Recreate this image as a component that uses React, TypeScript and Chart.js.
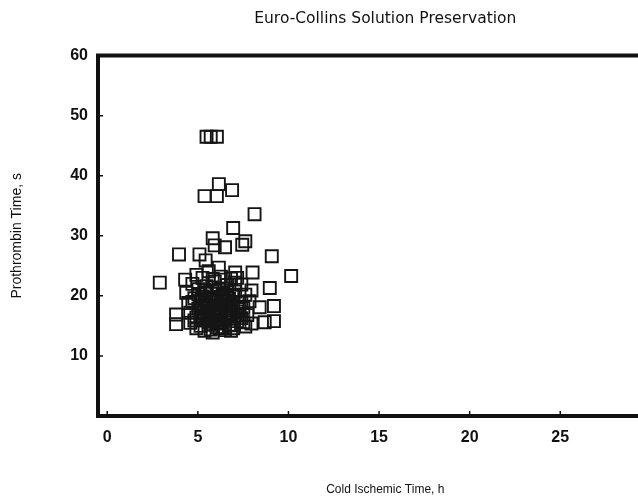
import { useEffect, useRef } from 'react';
import { Chart, registerables } from 'chart.js';

Chart.register(...registerables);

// Cold ischemic time (h)
const coldIschemicTime = [
  5.48, 5.71, 6.05,
  6.16, 5.37, 6.05, 6.89, 8.13, 6.95, 5.82, 7.62, 5.93, 6.5, 7.45, 3.96, 5.09, 5.43, 9.08, 10.15, 2.9,
  6.16, 7.06, 8.02, 4.3, 7.96, 8.97, 9.2, 8.41, 9.2, 8.69, 3.8, 3.8,
  4.36, 4.47, 4.58, 4.58, 4.7, 4.81, 4.92, 4.92, 5.03, 5.15, 5.15, 5.26, 5.26, 5.37, 5.37, 5.48, 5.48, 5.6, 5.6,
  5.71, 5.71, 5.82, 5.82, 5.93, 5.93, 6.05, 6.05, 6.16, 6.16, 6.27, 6.27, 6.38, 6.38, 6.5, 6.5, 6.61, 6.61, 6.72,
  6.72, 6.83, 6.83, 6.95, 6.95, 7.06, 7.17, 7.17, 7.28, 7.4, 7.4, 7.51, 7.62, 7.62, 7.73, 7.85, 7.96, 5.03, 5.48,
  5.93, 6.27, 6.61, 5.71, 6.16, 7.06, 5.26,
  4.7, 4.81, 5.03, 5.15, 5.37, 5.37, 5.6, 5.6, 5.82, 5.82, 6.05, 6.16, 6.27, 6.38, 6.5, 6.61, 6.72, 6.83, 6.95,
  7.28, 7.4, 7.51, 5.71, 4.92, 7.17,
  5.3, 5.5, 5.7, 5.9, 6.1, 6.3, 6.5, 6.7, 6.9, 5.4, 5.8, 6.2, 6.6, 7.0, 5.6, 6.0, 6.4, 5.2, 6.8, 7.3,
];

// Prothrombin time (s)
const prothrombinTime = [
  46.5, 46.5, 46.5,
  38.6, 36.6, 36.6, 37.6, 33.6, 31.3, 29.6, 29.1, 28.4, 28.1, 28.5, 26.9, 26.9, 25.9, 26.6, 23.3, 22.2,
  24.7, 23.9, 23.9, 22.7, 20.9, 21.3, 18.3, 18.1, 15.8, 15.6, 16.9, 15.3,
  20.5, 18.8, 17.2, 15.5, 22.0, 19.6, 16.4, 14.6, 21.1, 18.2, 15.0, 23.0, 19.9, 17.3, 14.2, 21.6, 16.0, 18.9, 24.1,
  15.2, 20.4, 17.8, 13.9, 22.4, 16.6, 19.3, 14.8, 21.0, 17.0, 15.6, 23.2, 18.6, 20.0, 16.2, 14.3, 21.8, 17.6, 19.5,
  15.1, 22.9, 16.9, 18.3, 14.6, 20.7, 17.4, 15.8, 19.0, 21.9, 16.3, 18.0, 14.9, 20.2, 16.8, 19.1, 15.4, 17.9, 19.0,
  18.4, 19.8, 16.5, 16.8, 15.4, 22.2, 16.1,
  19.0, 15.9, 20.3, 16.7, 18.5, 21.0, 15.7, 17.5, 19.6, 22.8, 15.9, 18.0, 17.2, 14.7, 19.0, 20.6, 17.9, 14.2, 20.1,
  16.7, 18.9, 15.6, 14.4, 23.5, 23.0,
  16.4, 18.1, 15.3, 19.7, 16.9, 18.5, 15.9, 17.3, 19.9, 20.6, 21.4, 14.6, 21.2, 15.2, 17.0, 16.0, 20.3, 19.3, 18.6, 17.8,
];

const xTickValues = [0, 5, 10, 15, 20, 25];
const yTickValues = [10, 20, 30, 40, 50, 60];

const titleText = 'Euro-Collins Solution Preservation';
const xTitleText = 'Cold Ischemic Time, h';
const yTitleText = 'Prothrombin Time, s';

const FONT = '"Liberation Sans", Arial, sans-serif';
const TITLE_FONT = '"DejaVu Sans", "Liberation Sans", sans-serif';
const INK = '#111111';

const framePlugin = {
  id: 'frame',
  afterDatasetsDraw(chart: any) {
    const { ctx, chartArea: a, scales } = chart;
    ctx.save();
    ctx.strokeStyle = INK;
    ctx.lineWidth = 4;
    ctx.lineJoin = 'miter';
    ctx.beginPath();
    ctx.moveTo(a.right + 5, a.top);
    ctx.lineTo(a.left, a.top);
    ctx.lineTo(a.left, a.bottom);
    ctx.lineTo(a.right + 5, a.bottom);
    ctx.stroke();
    ctx.lineWidth = 1.5;
    ctx.beginPath();
    for (const v of xTickValues) {
      const x = scales.x.getPixelForValue(v);
      ctx.moveTo(x, a.bottom);
      ctx.lineTo(x, a.bottom - 5);
    }
    for (const v of yTickValues) {
      const y = scales.y.getPixelForValue(v);
      ctx.moveTo(a.left, y);
      ctx.lineTo(a.left + 5, y);
    }
    ctx.stroke();
    ctx.restore();
  },
};

export default function App() {
  const ref = useRef<HTMLCanvasElement | null>(null);

  useEffect(() => {
    if (!ref.current) return;
    const chart = new Chart(ref.current, {
      type: 'scatter',
      data: {
        datasets: [
          {
            data: coldIschemicTime.map((x, i) => ({ x, y: prothrombinTime[i] })),
            pointStyle: 'rect',
            pointRadius: 8.5,
            pointHoverRadius: 8.5,
            borderColor: '#151515',
            borderWidth: 1.9,
            backgroundColor: 'rgba(0,0,0,0)',
          },
        ],
      },
      options: {
        responsive: false,
        animation: false,
        layout: { padding: { left: 0, right: 0, top: 0, bottom: 0 } },
        plugins: {
          legend: { display: false },
          tooltip: { enabled: false },
          title: {
            display: true,
            fullSize: false,
            text: titleText,
            color: INK,
            font: { family: TITLE_FONT, size: 15.5, weight: 'normal' },
            padding: { top: 10, bottom: 27 },
          },
        },
        scales: {
          x: {
            type: 'linear',
            min: -0.51,
            max: 31.2,
            grid: { display: false },
            border: { display: false },
            ticks: {
              stepSize: 5,
              includeBounds: false,
              color: INK,
              font: { family: FONT, size: 16, weight: 'bold' },
              padding: 4,
              maxRotation: 0,
              autoSkip: false,
              callback: (v: any) => (xTickValues.includes(v) ? String(v) : ''),
            },
            title: {
              display: true,
              text: xTitleText,
              color: INK,
              font: { family: FONT, size: 12 },
              padding: { top: 0, bottom: 0 },
            },
            afterFit(s: any) {
              s.height = 81;
            },
          },
          y: {
            min: 0,
            max: 60,
            grid: { display: false },
            border: { display: false },
            ticks: {
              stepSize: 10,
              color: INK,
              font: { family: FONT, size: 16, weight: 'bold' },
              padding: 2,
              callback: (v: any) => (yTickValues.includes(v) ? String(v) : ''),
            },
            title: {
              display: true,
              text: yTitleText,
              color: INK,
              font: { family: FONT, size: 14 },
              padding: { top: 9, bottom: 0 },
            },
            afterFit(s: any) {
              s.width = 98;
            },
          },
        },
      },
      plugins: [framePlugin],
    });
    return () => chart.destroy();
  }, []);

  return (
    <div style={{ position: 'fixed', left: 0, top: 0, width: 638, height: 497, overflow: 'hidden', background: '#fff' }}>
      <canvas ref={ref} width={683} height={497} style={{ display: 'block' }} />
    </div>
  );
}
